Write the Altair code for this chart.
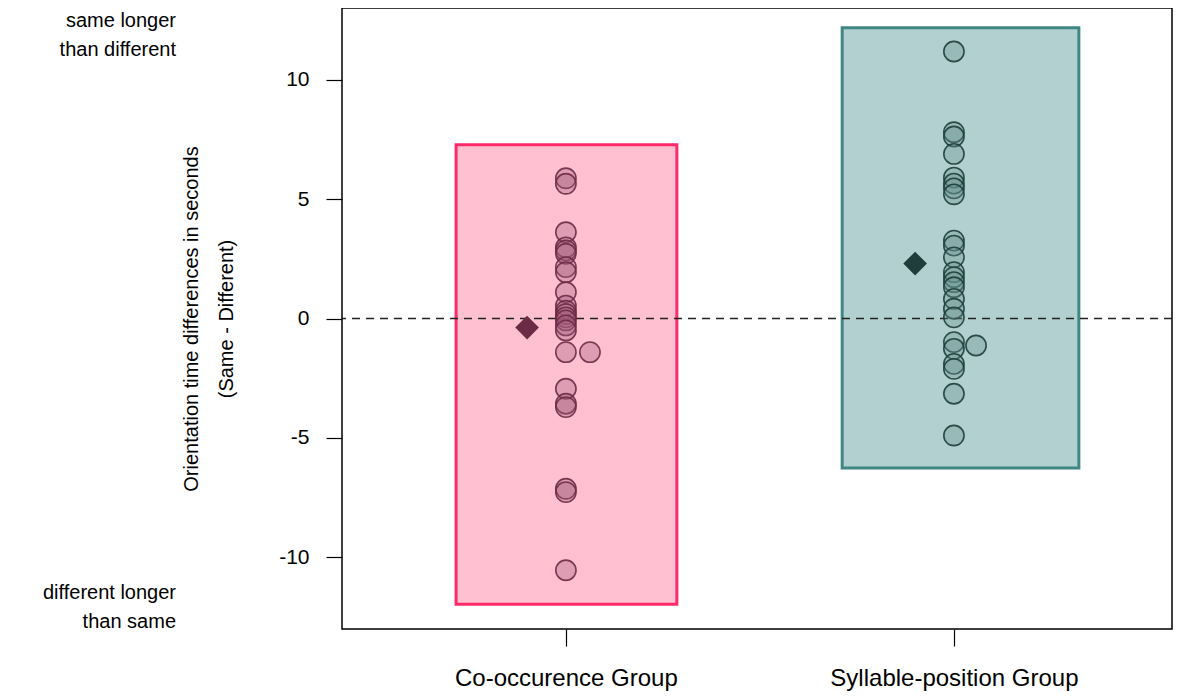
import altair as alt
import pandas as pd

# ---- data ----
groups = ["Co-occurence Group", "Syllable-position Group"]
group_pos = [1, 2]

co_values = [5.87, 5.64, 3.61, 2.98, 2.85, 2.71, 2.15, 1.94, 1.10, 0.54, 0.33, 0.19,
             0.05, -0.08, -0.29, -0.50, -1.41, -1.41, -2.94, -3.57, -3.71, -7.13, -7.27, -10.54]
co_jitter = [0] * 17 + [0.062] + [0] * 6

sy_values = [11.18, 7.80, 7.62, 6.89, 5.90, 5.65, 5.45, 5.20, 3.26, 3.05, 2.56, 1.94,
             1.73, 1.52, 1.31, 0.82, 0.41, 0.05, -0.99, -1.13, -1.27, -1.90, -2.11, -3.15, -4.90]
sy_jitter = [0] * 19 + [0.057] + [0] * 5

means = [-0.38, 2.30]
mean_offset = [-0.1, -0.1]

box_left = [0.717, 1.712]
box_right = [1.286, 2.322]
box_low = [-11.96, -6.26]
box_high = [7.27, 12.17]

y_ticks = [-10, -5, 0, 5, 10]
note_top = ["same longer", "than different"]
note_bottom = ["different longer", "than same"]

fills = ["#FFC0D2", "#B2D0CF"]
strokes = ["#FF2A6A", "#3F8784"]
pt_fills = ["#A05C77", "#66928F"]
pt_strokes = ["#6B2B45", "#1E3D3B"]

# ---- tables ----
pts = pd.DataFrame({
    "group": [groups[0]] * len(co_values) + [groups[1]] * len(sy_values),
    "x": [group_pos[0] + j for j in co_jitter] + [group_pos[1] + j for j in sy_jitter],
    "y": co_values + sy_values,
})
boxes = pd.DataFrame({"group": groups, "x": box_left, "x2": box_right,
                      "y": box_low, "y2": box_high})
mdf = pd.DataFrame({"group": groups,
                    "x": [p + o for p, o in zip(group_pos, mean_offset)],
                    "y": means})
notes = pd.DataFrame({"y": [12.45, -11.5], "text": [note_top, note_bottom]})
zero = pd.DataFrame({"y": [0]})

FONT = "Liberation Sans"

label_expr = " : ".join(
    f"datum.value == {p} ? '{g}'" for p, g in zip(group_pos, groups)) + " : ''"
y_label_expr = "datum.value < 0 ? '-' + abs(datum.value) : '' + datum.value"

xscale = alt.Scale(domain=[0.423, 2.562], nice=False, zero=False)
yscale = alt.Scale(domain=[-13, 13], nice=False, zero=False)

xenc = alt.X("x:Q", scale=xscale,
             axis=alt.Axis(values=group_pos, labelExpr=label_expr, title=None,
                           grid=False, domain=False, tickSize=17, tickColor="black",
                           tickWidth=1.2, labelPadding=20, labelFontSize=24,
                           labelLimit=0, labelFont=FONT, labelColor="black"))
yenc = alt.Y("y:Q", scale=yscale,
             axis=alt.Axis(values=y_ticks, labelExpr=y_label_expr, grid=False,
                           domain=False, tickSize=16, tickColor="black", tickWidth=1.2,
                           labelPadding=17, labelFontSize=21, labelFont=FONT,
                           labelColor="black",
                           title=["Orientation time differences in seconds",
                                  "(Same - Different)"],
                           titleFont=FONT, titleFontSize=20, titleFontWeight="normal",
                           titleColor="black", titleLineHeight=35, titlePadding=42))

fill_scale = alt.Scale(domain=groups, range=fills)
stroke_scale = alt.Scale(domain=groups, range=strokes)
ptf_scale = alt.Scale(domain=groups, range=pt_fills)
pts_scale = alt.Scale(domain=groups, range=pt_strokes)

box_layer = alt.Chart(boxes).mark_rect(strokeWidth=3).encode(
    x=xenc, x2="x2:Q", y=yenc, y2="y2:Q",
    fill=alt.Fill("group:N", scale=fill_scale, legend=None),
    stroke=alt.Stroke("group:N", scale=stroke_scale, legend=None),
)

zero_layer = alt.Chart(zero).mark_rule(color="#222222", strokeWidth=1.5,
                                       strokeDash=[8, 6]).encode(y="y:Q")

pt_layer = alt.Chart(pts).mark_point(filled=False, shape="circle", size=410,
                                     strokeWidth=1.6, fillOpacity=0.35,
                                     strokeOpacity=0.9).encode(
    x="x:Q", y="y:Q",
    fill=alt.Fill("group:N", scale=ptf_scale, legend=None),
    stroke=alt.Stroke("group:N", scale=pts_scale, legend=None),
)

mean_layer = alt.Chart(mdf).mark_point(shape="diamond", filled=True, size=560,
                                       opacity=1).encode(
    x="x:Q", y="y:Q",
    color=alt.Color("group:N", scale=pts_scale, legend=None),
)

note_layer = alt.Chart(notes).mark_text(align="right", baseline="middle",
                                        fontSize=20, font=FONT, lineHeight=29,
                                        color="black").encode(
    x=alt.value(-166), y="y:Q", text="text")

chart = alt.layer(box_layer, zero_layer, pt_layer, mean_layer, note_layer).resolve_scale(
    fill="independent", stroke="independent", color="independent"
).properties(
    width=830, height=621,
    autosize=alt.AutoSizeParams(type="none"),
    padding={"left": 334, "top": 0, "right": 10, "bottom": 68},
).configure_view(stroke="black", strokeWidth=1.5)

chart.save("out.html", embed_options={"renderer": "svg", "actions": False})
